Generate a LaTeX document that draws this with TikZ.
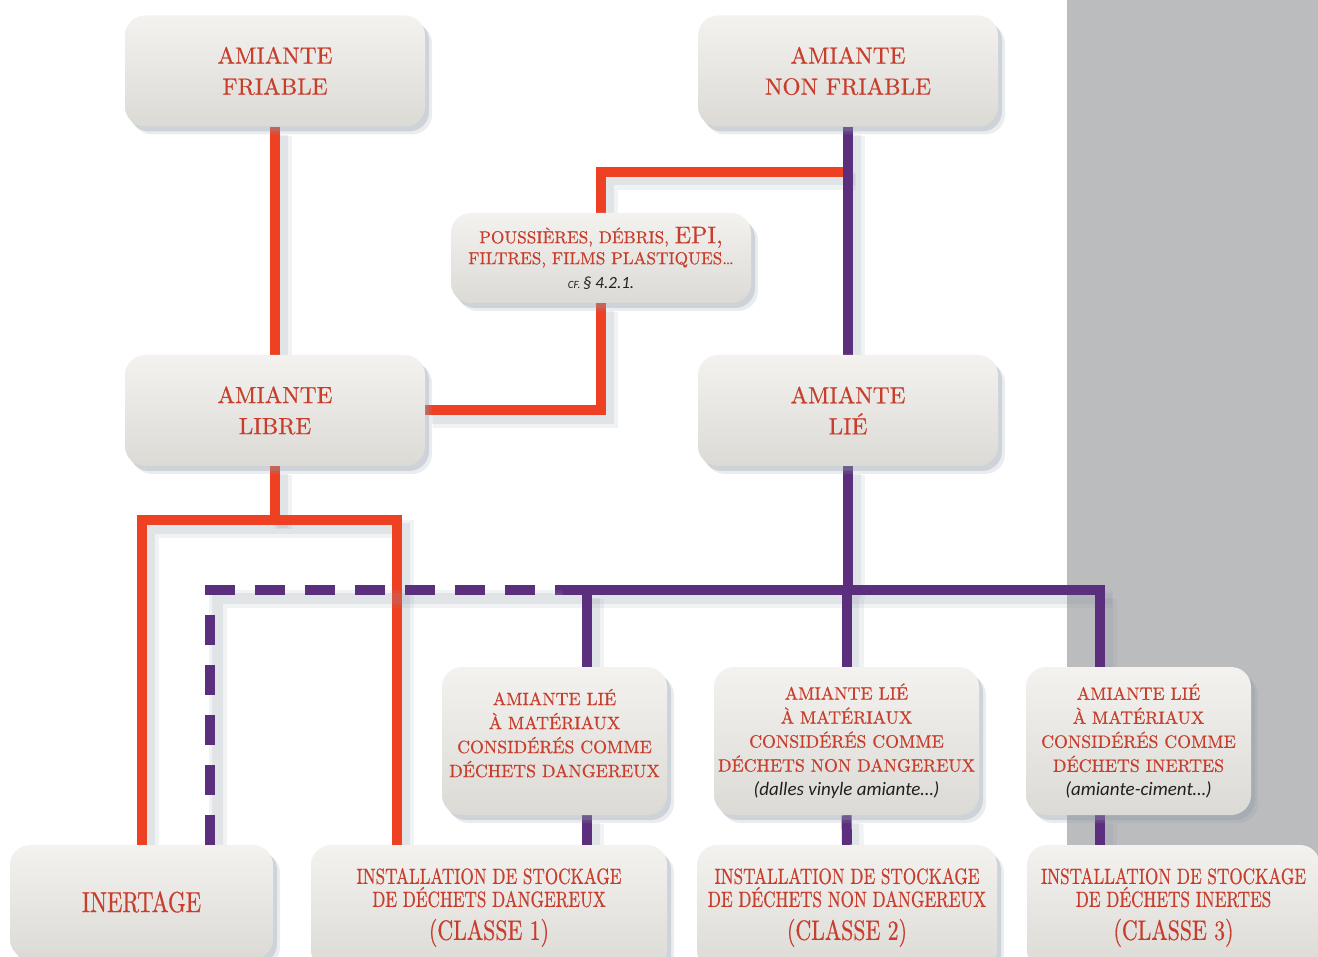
\documentclass[tikz,border=0pt]{standalone}
\usepackage{fontspec}
\newfontfamily\capfont{lmroman10-regular.otf}[FakeBold=0.6]
\newfontfamily\condfont{lmroman10-regular.otf}[FakeStretch=0.78,FakeBold=0.6]
\newfontfamily\itfont{Carlito}
\usetikzlibrary{shadows}
\definecolor{lred}{RGB}{238,64,35}
\definecolor{lpur}{RGB}{92,46,126}
\definecolor{tred}{RGB}{200,62,45}
\definecolor{tblk}{RGB}{35,31,32}
\definecolor{gbg}{RGB}{187,188,190}
\definecolor{bxl}{RGB}{243,242,239}
\definecolor{bxd}{RGB}{220,218,213}
\definecolor{shc}{RGB}{140,152,165}
\pgfdeclarelayer{bgA}
\pgfdeclarelayer{bgB}
\pgfsetlayers{bgA,bgB,main}
\tikzset{
  box/.style={rounded corners=20pt, top color=bxl, bottom color=bxd,
    inner sep=0pt, align=center, text=tred,
    drop shadow={shadow xshift=7pt, shadow yshift=-8pt, fill=shc, opacity=0.18},
    drop shadow={shadow xshift=4pt, shadow yshift=-5pt, fill=shc, opacity=0.3}},
  bigbox/.style={box, minimum width=300pt, minimum height=111pt, font=\capfont\fontsize{23.3}{31}\selectfont},
  midbox/.style={box, minimum height=148pt, font=\capfont\fontsize{17.8}{24}\selectfont},
  lowbox/.style={box, minimum height=125pt, font=\condfont\fontsize{22}{23}\selectfont},
  lshadow/.style={preaction={draw=shc, draw opacity=0.12, line width=18pt,
      transform canvas={shift={(8pt,-9pt)}}},
    preaction={draw=shc, draw opacity=0.16, line width=11pt,
      transform canvas={shift={(7pt,-8pt)}}}},
  redl/.style={lshadow, draw=lred, line width=10pt},
  purl/.style={lshadow, draw=lpur, line width=10pt},
  purdash/.style={purl, dash pattern=on 30pt off 20pt, dash phase=30pt},
}
\begin{document}
\begin{tikzpicture}[x=1pt,y=-1pt]
\useasboundingbox (0,0) rectangle (1318,957);
\begin{pgfonlayer}{bgA}
  \fill[gbg] (1067,0) rectangle (1318,957);
\end{pgfonlayer}

% boxes
\node[bigbox] (fri) at (275,71) {AMIANTE\\FRIABLE};
\node[bigbox] (nf) at (848,71) {AMIANTE\\NON FRIABLE};
\node[box, minimum width=300pt, minimum height=90pt, font=\capfont\fontsize{17.2}{21}\selectfont] (pou) at (601,258)
  {POUSSIÈRES, DÉBRIS, {\fontsize{24}{21}\selectfont EPI,}\\FILTRES, FILMS PLASTIQUES\ldots\\[3pt]
   {\itfont\itshape\color{tblk}\fontsize{11}{21}\selectfont CF.\fontsize{17}{21}\selectfont\,§ 4.2.1.}};
\node[bigbox] (lib) at (275,410.5) {AMIANTE\\LIBRE};
\node[bigbox] (lie) at (848,410.5) {AMIANTE\\LIÉ};

\node[midbox, minimum width=225pt] (dd) at (554.5,741)
  {AMIANTE LIÉ\\À MATÉRIAUX\\CONSIDÉRÉS COMME\\DÉCHETS DANGEREUX\\[-8pt]\mbox{}};
\node[midbox, minimum width=265pt] (nd) at (846.5,741)
  {AMIANTE LIÉ\\À MATÉRIAUX\\CONSIDÉRÉS COMME\\DÉCHETS NON DANGEREUX\\
   {\itfont\itshape\color{tblk}\fontsize{19}{24}\selectfont (dalles vinyle amiante…)}};
\node[midbox, minimum width=225pt] (di) at (1138.5,741)
  {AMIANTE LIÉ\\À MATÉRIAUX\\CONSIDÉRÉS COMME\\DÉCHETS INERTES\\
   {\itfont\itshape\color{tblk}\fontsize{19}{24}\selectfont (amiante-ciment…)}};

\node[box, minimum width=263pt, minimum height=114pt, font=\condfont\fontsize{29}{28}\selectfont] (inert) at (141.5,902) {INERTAGE};
\node[lowbox, minimum width=356pt] (c1) at (489,907.5)
  {INSTALLATION DE STOCKAGE\\DE DÉCHETS DANGEREUX\\[10pt]{\fontsize{28}{28}\selectfont (CLASSE 1)}};
\node[lowbox, minimum width=300pt] (c2) at (847,907.5)
  {INSTALLATION DE STOCKAGE\\DE DÉCHETS NON DANGEREUX\\[10pt]{\fontsize{28}{28}\selectfont (CLASSE 2)}};
\node[lowbox, minimum width=293pt] (c3) at (1173.5,907.5)
  {INSTALLATION DE STOCKAGE\\DE DÉCHETS INERTES\\[10pt]{\fontsize{28}{28}\selectfont (CLASSE 3)}};

% junction coordinates
\coordinate (j1) at (848,172);
\coordinate (r0) at (275,520);
\coordinate (rl) at (142,520);
\coordinate (rr) at (397,520);
\coordinate (hs) at (555,590);
\coordinate (he) at (1105,590);
\coordinate (v1) at (587,590);
\coordinate (v2) at (846.5,590);
\coordinate (v3) at (1100,590);
\coordinate (dc) at (210,590);

\begin{pgfonlayer}{bgB}
  % red network
  \draw[redl] (fri.south) -- (lib.north);
  \draw[redl] (lib.east) -| (pou.south);
  \draw[redl] (pou.north) |- (j1);
  \draw[redl] (lib.south) -- (r0);
  \draw[redl] (rl |- inert.north) -- (rl) -- (rr) -- (rr |- c1.north);
  % purple network
  \draw[purl] (nf.south) -- (lie.north);
  \draw[purl] (lie.south) -- (lie.south |- hs);
  \draw[purl] (hs) -- (he);
  \draw[purl] (v1) -- (v1 |- dd.north);
  \draw[purl] (v2) -- (nd.north);
  \draw[purl] (v3) -- (v3 |- di.north);
  \draw[purl] (v1 |- dd.south) -- (v1 |- c1.north);
  \draw[purl] (nd.south) -- (c2.north);
  \draw[purl] (v3 |- di.south) -- (v3 |- c3.north);
  \draw[purdash] (hs) -- (dc) -- (dc |- inert.north);
\end{pgfonlayer}
\end{tikzpicture}
\end{document}
